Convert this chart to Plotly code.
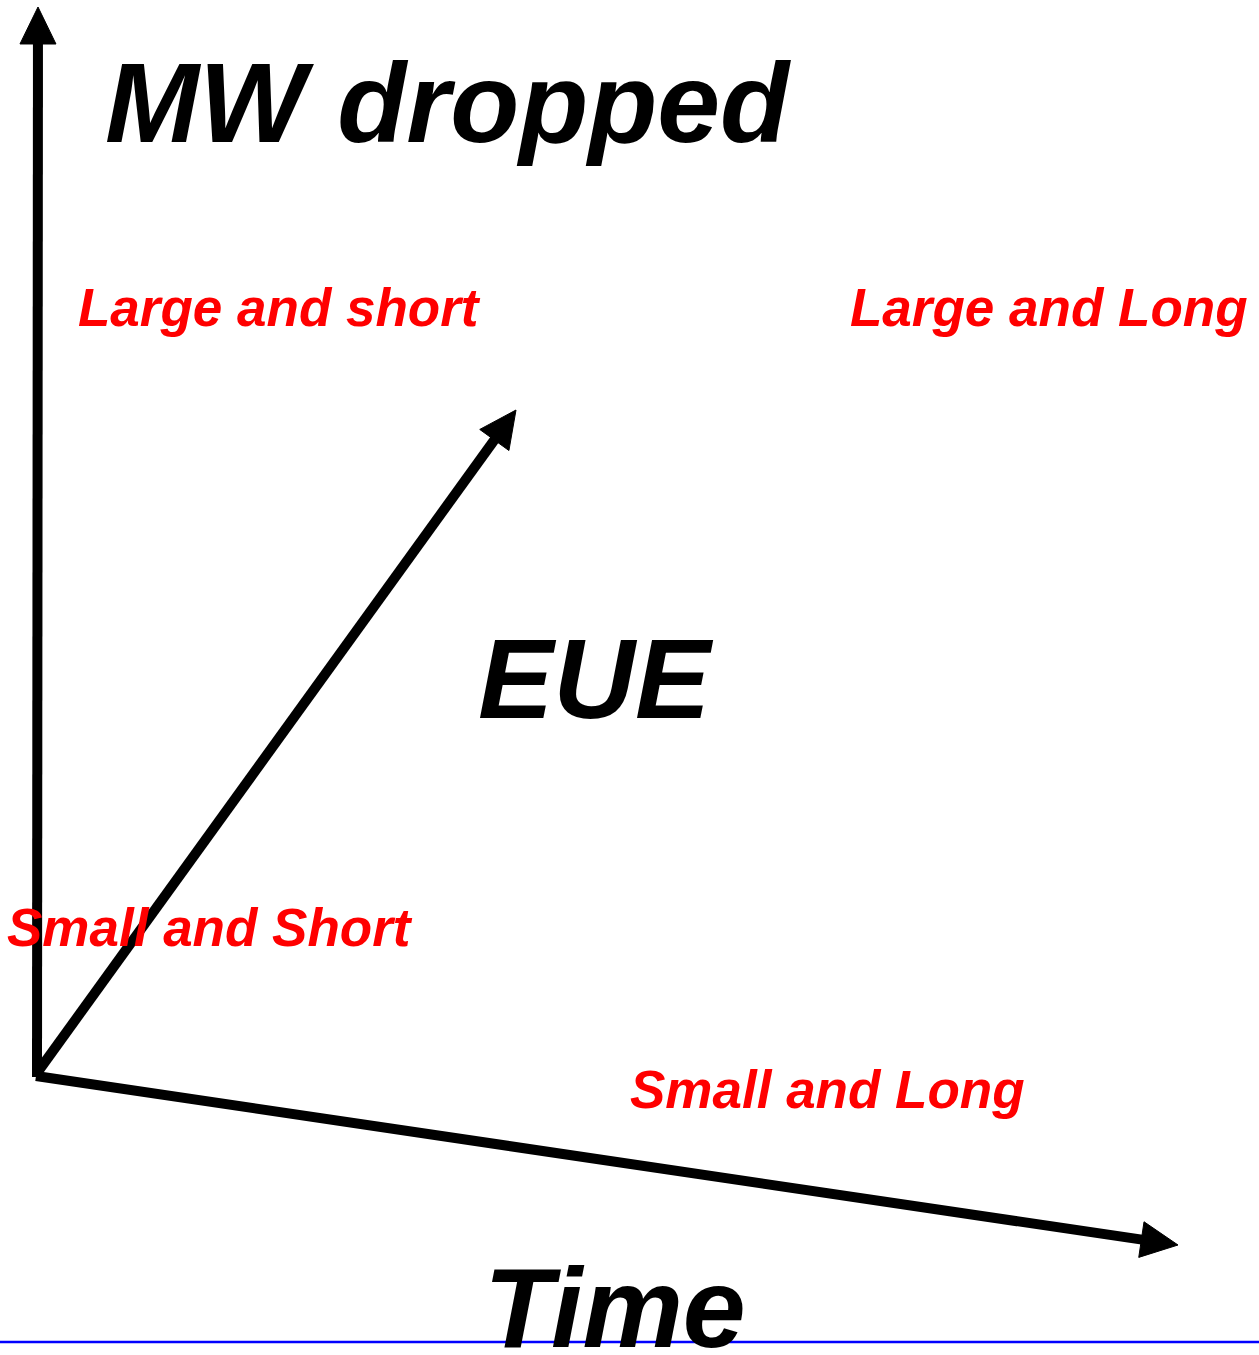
import plotly.graph_objects as go
import math

# ---- data ----
W, H = 1259, 1355

arrow_names = ["MW dropped axis", "EUE axis", "Time axis"]
arrow_x0 = [37, 37, 36]
arrow_y0 = [1077, 1073, 1076]
arrow_x1 = [38, 516, 1178]
arrow_y1 = [7, 410, 1245]

title_texts = ["MW dropped", "EUE", "Time"]
title_x = [103, 476, 482]
title_y = [103, 679, 1308]

label_texts = ["Large and short", "Large and Long", "Small and Short", "Small and Long"]
label_x = [76, 848, 5, 628]
label_y = [307, 307, 927, 1089]

baseline_y = [1342, 1342]
baseline_x = [0, W]

LINE_W = 10
HEAD_LEN = 37
HEAD_HALF = 18

fig = go.Figure()

# blue line at the bottom
fig.add_trace(go.Scatter(x=baseline_x, y=baseline_y, mode="lines",
                         line=dict(color="#0000ff", width=2.5), hoverinfo="skip", showlegend=False))

for name, x0, y0, x1, y1 in zip(arrow_names, arrow_x0, arrow_y0, arrow_x1, arrow_y1):
    dx, dy = x1 - x0, y1 - y0
    L = math.hypot(dx, dy)
    ux, uy = dx / L, dy / L
    px, py = -uy, ux
    bx, by = x1 - ux * HEAD_LEN, y1 - uy * HEAD_LEN
    # shaft
    fig.add_trace(go.Scatter(x=[x0, bx + ux * 4], y=[y0, by + uy * 4], mode="lines",
                             line=dict(color="black", width=LINE_W), name=name,
                             hoverinfo="skip", showlegend=False))
    # head
    fig.add_trace(go.Scatter(x=[x1, bx + px * HEAD_HALF, bx - px * HEAD_HALF, x1],
                             y=[y1, by + py * HEAD_HALF, by - py * HEAD_HALF, y1],
                             mode="lines", fill="toself", fillcolor="black",
                             line=dict(color="black", width=1), hoverinfo="skip", showlegend=False))

for t, x, y in zip(title_texts, title_x, title_y):
    fig.add_annotation(x=x, y=y, text=t, showarrow=False, xanchor="left", yanchor="middle",
                       font=dict(family="Liberation Sans, Arial, sans-serif", size=113,
                                 color="black", weight="bold", style="italic"))

for t, x, y in zip(label_texts, label_x, label_y):
    fig.add_annotation(x=x, y=y, text=t, showarrow=False, xanchor="left", yanchor="middle",
                       font=dict(family="Liberation Sans, Arial, sans-serif", size=53,
                                 color="#ff0000", weight="bold", style="italic"))

fig.update_layout(
    width=W, height=H,
    margin=dict(l=0, r=0, t=0, b=0),
    paper_bgcolor="white", plot_bgcolor="white",
    xaxis=dict(range=[0, W], visible=False, fixedrange=True),
    yaxis=dict(range=[H, 0], visible=False, fixedrange=True),
    showlegend=False,
)

fig.write_html("out.html", config={"displayModeBar": False},
               post_script="document.body.style.margin='0';document.body.style.overflow='hidden';")
